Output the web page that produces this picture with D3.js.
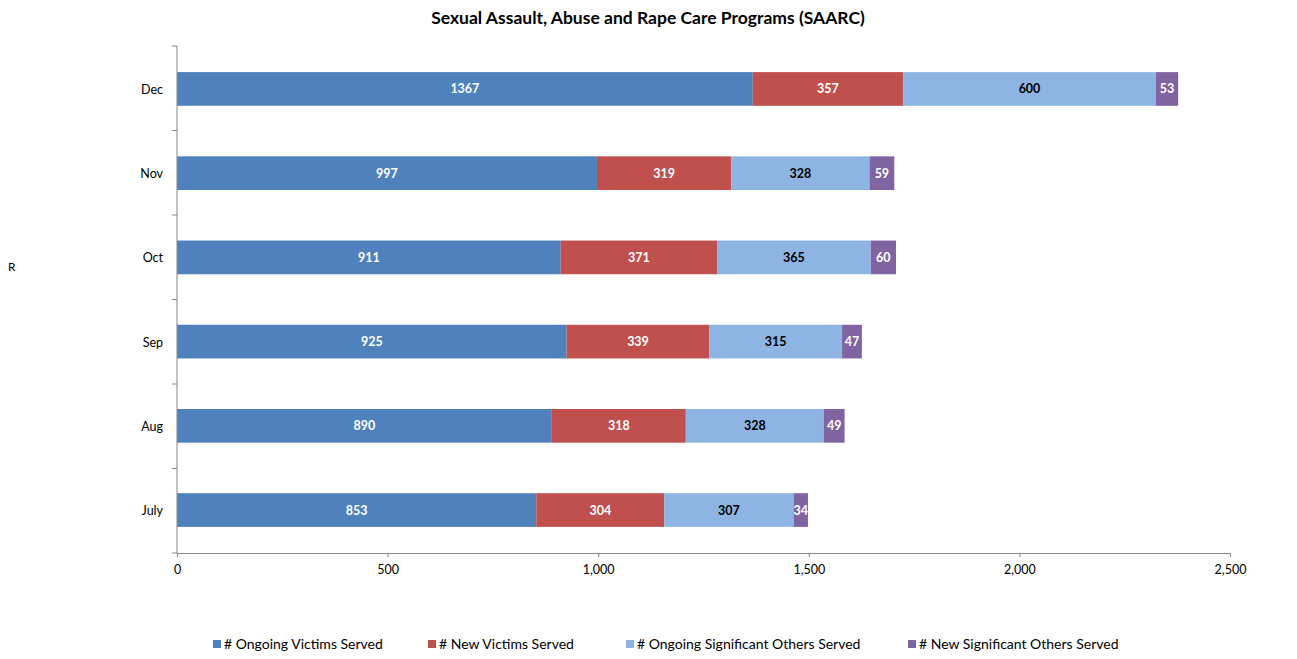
<!DOCTYPE html>
<html>
<head>
<meta charset="utf-8">
<script src="https://cdn.jsdelivr.net/npm/d3@7"></script>
<style>
body{margin:0;background:#fff;}
svg text{font-family:Lato,"Open Sans",sans-serif;}
</style>
</head>
<body>
<svg id="chart" width="1297" height="659"></svg>
<script>
const months = ["July","Aug","Sep","Oct","Nov","Dec"];
const seriesNames = ["# Ongoing Victims Served","# New Victims Served","# Ongoing Significant Others Served","# New Significant Others Served"];
const ongoingVictims = [853,890,925,911,997,1367];
const newVictims = [304,318,339,371,319,357];
const ongoingOthers = [307,328,315,365,328,600];
const newOthers = [34,49,47,60,59,53];
const xTicks = [0,500,1000,1500,2000,2500];
const colors = ["#4F81BD","#C0504D","#8EB4E3","#8064A2"];
const labelColors = ["#fff","#fff","#000","#fff"];

const svg = d3.select("#chart");
const mLeft = 177, mRight = 1230, mTop = 46, mBottom = 553;

const x = d3.scaleLinear().domain([0,2500]).range([mLeft,mRight]);
const y = d3.scaleBand().domain(months.slice().reverse()).range([mTop,mBottom]).paddingInner(0.6).paddingOuter(0.31);

const values = [ongoingVictims,newVictims,ongoingOthers,newOthers];
const rows = months.map((m,i)=>{const o={month:m}; seriesNames.forEach((s,j)=>o[s]=values[j][i]); return o;});
const stacked = d3.stack().keys(seriesNames)(rows);

// title
svg.append("text").attr("x",648).attr("y",24).attr("text-anchor","middle")
  .attr("font-size","17.5px").attr("font-weight","bold").text("Sexual Assault, Abuse and Rape Care Programs (SAARC)");

svg.append("text").attr("x",8).attr("y",271).attr("font-size","12px").text("R");

// bars
stacked.forEach((layer,j)=>{
  const g = svg.append("g");
  g.selectAll("rect").data(layer).enter().append("rect")
    .attr("x",d=>x(d[0])).attr("width",d=>x(d[1])-x(d[0]))
    .attr("y",d=>y(d.data.month)).attr("height",y.bandwidth())
    .attr("fill",colors[j]);
  g.selectAll("text").data(layer).enter().append("text")
    .attr("x",d=>(x(d[0])+x(d[1]))/2).attr("y",d=>y(d.data.month)+y.bandwidth()/2+4.5)
    .attr("text-anchor","middle").attr("font-size","12.5px").attr("font-weight","bold")
    .attr("fill",labelColors[j]).text(d=>d[1]-d[0]);
});

// y axis
const yAxisG = svg.append("g");
yAxisG.append("line").attr("x1",mLeft).attr("x2",mLeft).attr("y1",mTop).attr("y2",mBottom).attr("stroke","#868686");
const step = (mBottom-mTop)/months.length;
d3.range(months.length+1).forEach(i=>{
  yAxisG.append("line").attr("x1",mLeft-5).attr("x2",mLeft).attr("y1",mTop+i*step).attr("y2",mTop+i*step).attr("stroke","#868686");
});
months.forEach(m=>{
  yAxisG.append("text").attr("x",163).attr("y",y(m)+y.bandwidth()/2+5).attr("text-anchor","end").attr("font-size","12.5px").attr("fill","#000").text(m);
});

// x axis
const xAxis = d3.axisBottom(x).tickValues(xTicks).tickFormat(d3.format(",")).tickSize(4).tickSizeOuter(0);
const xg = svg.append("g").attr("transform",`translate(0,${mBottom})`).call(xAxis);
xg.select(".domain").attr("stroke","#868686");
xg.selectAll(".tick line").attr("stroke","#868686");
xg.selectAll(".tick text").attr("font-size","12.5px").attr("fill","#000").attr("y",12).attr("dy","0.71em").style("font-family","Lato,'Open Sans',sans-serif");

// legend
const legX = [213,428,626,908];
seriesNames.forEach((s,j)=>{
  svg.append("rect").attr("x",legX[j]).attr("y",640).attr("width",8).attr("height",8).attr("fill",colors[j]);
  svg.append("text").attr("x",legX[j]+11).attr("y",649).attr("font-size","14px").attr("fill","#000").text(s);
});
</script>
</body>
</html>
